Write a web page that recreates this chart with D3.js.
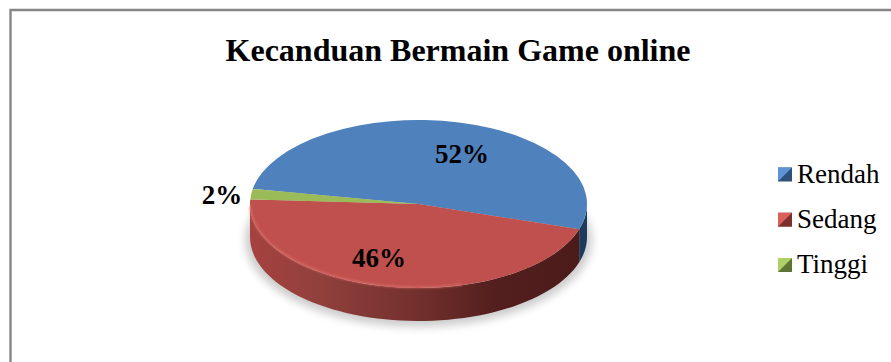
<!DOCTYPE html>
<html>
<head>
<meta charset="utf-8">
<script src="https://cdnjs.cloudflare.com/ajax/libs/d3/7.8.5/d3.min.js"></script>
<style>
  html, body { margin: 0; padding: 0; background: #fff; }
  svg { display: block; }
  text { font-family: "Liberation Serif", serif; fill: #000; }
</style>
</head>
<body>
<svg id="chart" width="891" height="362"></svg>
<script>
const categories = ["Rendah", "Sedang", "Tinggi"];
const percents = [52, 46, 2];
const faceColors = ["#4f81bd", "#c0504d", "#9bbb59"];
const chartTitle = "Kecanduan Bermain Game online";

const width = 891, height = 362;
const cx = 418.5, cy = 204, rx = 168.5, ry = 84, depth = 33;
const tilt = ry / rx;
const deg = Math.PI / 180;
const firstAngle = -79.7 * deg;

const svg = d3.select("#chart");
const defs = svg.append("defs");

// Soft contact shadow under the disc
defs.append("filter").attr("id", "soft").attr("x", "-20%").attr("y", "-30%").attr("width", "140%").attr("height", "160%")
  .append("feGaussianBlur").attr("stdDeviation", 4);
defs.append("filter").attr("id", "edgeBlur").attr("x", "-10%").attr("y", "-10%").attr("width", "120%").attr("height", "120%")
  .append("feGaussianBlur").attr("stdDeviation", 0.8);

// Horizontal shading along the rim
function rimGradient(id, stops) {
  const g = defs.append("linearGradient").attr("id", id)
    .attr("gradientUnits", "userSpaceOnUse")
    .attr("x1", cx - rx).attr("x2", cx + rx).attr("y1", 0).attr("y2", 0);
  stops.forEach(([o, c]) => g.append("stop").attr("offset", o).attr("stop-color", c));
}
rimGradient("rim0", [[0, "#1f3f63"], [1, "#1d3b5c"]]);
rimGradient("rim1", [[0, "#a5423f"], [0.2, "#92403c"], [0.5, "#72302d"], [0.72, "#541f1e"], [1, "#4a1b1a"]]);
rimGradient("rim2", [[0, "#6f8a3e"], [1, "#6f8a3e"]]);

// Frame, open at the right and bottom where the page crops it
svg.append("path")
  .attr("d", d3.line()([[10.5, height], [10.5, 10], [width, 10]]))
  .attr("fill", "none").attr("stroke", "#868686").attr("stroke-width", 2.4);

svg.append("text")
  .attr("x", 458).attr("y", 61).attr("text-anchor", "middle")
  .attr("font-size", 32).attr("font-weight", "bold")
  .text(chartTitle);

const pie = d3.pie().sort(null).startAngle(firstAngle).endAngle(firstAngle + 2 * Math.PI);
const slices = pie(percents);

// Point on the ellipse for a clockwise-from-north angle
const ex = a => cx + rx * Math.sin(a);
const ey = a => cy - ry * Math.cos(a);

// Shadow
svg.append("ellipse")
  .attr("cx", cx).attr("cy", cy + depth + 3).attr("rx", rx + 5).attr("ry", ry + 3)
  .attr("fill", "#000").attr("opacity", 0.2).attr("filter", "url(#soft)");

// Rim: only the part of each slice facing the viewer, between 90° and 270°
const rimGroup = svg.append("g");
slices.forEach((s, i) => {
  const spans = [[s.startAngle, s.endAngle], [s.startAngle + 2 * Math.PI, s.endAngle + 2 * Math.PI]];
  spans.forEach(([a0, a1]) => {
    const from = Math.max(a0, 90 * deg), to = Math.min(a1, 270 * deg);
    if (to <= from) return;
    const steps = d3.range(0, 61).map(k => from + (to - from) * k / 60);
    const top = steps.map(a => [ex(a), ey(a)]);
    const bottom = steps.slice().reverse().map(a => [ex(a), ey(a) + depth]);
    rimGroup.append("path")
      .attr("d", d3.line()(top.concat(bottom)) + "Z")
      .attr("fill", `url(#rim${i})`);
  });
});

// Top face: a flat pie squashed into an ellipse
const arc = d3.arc().innerRadius(0).outerRadius(rx);
svg.append("g")
  .attr("transform", `translate(${cx},${cy}) scale(1,${tilt})`)
  .selectAll("path").data(slices).join("path")
  .attr("d", arc)
  .attr("fill", (d, i) => faceColors[i]);

// Bevel highlight along the lower-left edge of the face
const bevelAngles = d3.range(0, 41).map(k => (268 - (268 - 165) * k / 40) * deg);
svg.append("path")
  .attr("d", d3.line()(bevelAngles.map(a => [ex(a), ey(a) - 0.6])))
  .attr("fill", "none").attr("stroke", "#e0706b").attr("stroke-width", 1.4).attr("filter", "url(#edgeBlur)");

// Percentage labels
const labelAt = [[462, 163], [379, 267], [222, 204]];
svg.append("g").selectAll("text").data(percents).join("text")
  .attr("x", (d, i) => labelAt[i][0]).attr("y", (d, i) => labelAt[i][1])
  .attr("text-anchor", "middle").attr("font-size", 27).attr("font-weight", "bold")
  .text(d => d + "%");

// Legend with bevelled swatches
const legendY = d3.scalePoint().domain(categories).range([174.5, 265]);
const lightC = ["#5b93d3", "#d9605b", "#aed066"];
const darkC = ["#2f5078", "#7a302e", "#5f7536"];
const legend = svg.append("g").selectAll("g").data(categories).join("g")
  .attr("transform", d => `translate(778,${legendY(d)})`);
legend.append("rect").attr("x", 0).attr("y", -7).attr("width", 14).attr("height", 14)
  .attr("fill", (d, i) => darkC[i]);
legend.append("path").attr("d", d3.line()([[0, -7], [14, -7], [0, 7]])).attr("fill", (d, i) => lightC[i]);
legend.append("text").attr("x", 19).attr("y", 8).attr("font-size", 27).text(d => d);
</script>
</body>
</html>
